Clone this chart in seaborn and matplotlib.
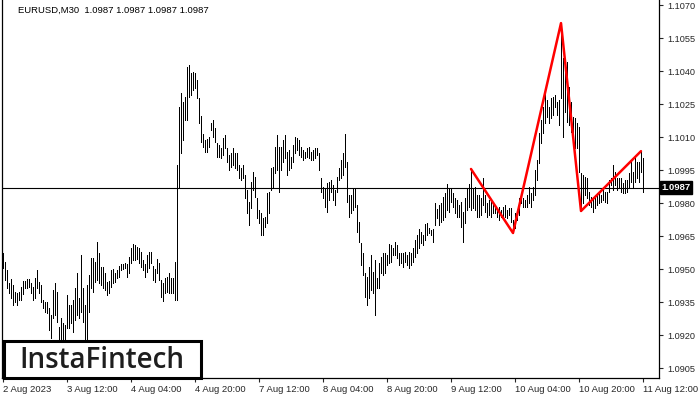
import numpy as np
import matplotlib
matplotlib.use("Agg")
import matplotlib.pyplot as plt
import seaborn as sns

# EURUSD M30, high / low for every bar
highs = [
    1.09573, 1.09532, 1.09496, 1.09436, 1.09455, 1.09427, 1.09396, 1.09391, 1.09396, 1.09418,
    1.09446, 1.09446, 1.09455, 1.09455, 1.09436, 1.09418, 1.09459, 1.09496, 1.09441, 1.09427,
    1.09359, 1.09350, 1.09350, 1.09323, 1.09291, 1.09405, 1.09436, 1.09396, 1.09236, 1.09277,
    1.09255, 1.09246, 1.09382, 1.09336, 1.09336, 1.09359, 1.09414, 1.09482, 1.09368, 1.09564,
    1.09414, 1.09336, 1.09427, 1.09473, 1.09550, 1.09550, 1.09532, 1.09623, 1.09573, 1.09509,
    1.09509, 1.09482, 1.09441, 1.09446, 1.09496, 1.09500, 1.09482, 1.09496, 1.09514, 1.09523,
    1.09523, 1.09527, 1.09523, 1.09555, 1.09596, 1.09614, 1.09609, 1.09600, 1.09596, 1.09578,
    1.09541, 1.09523, 1.09564, 1.09578, 1.09578, 1.09514, 1.09500, 1.09546, 1.09527, 1.09450,
    1.09436, 1.09459, 1.09464, 1.09482, 1.09459, 1.09459, 1.09532, 1.09973, 1.10237, 1.10300,
    1.10259, 1.10282, 1.10418, 1.10427, 1.10391, 1.10396, 1.10391, 1.10359, 1.10277, 1.10196,
    1.10114, 1.10087, 1.10091, 1.10100, 1.10164, 1.10178, 1.10141, 1.10073, 1.10064, 1.10050,
    1.10096, 1.10109, 1.10050, 1.10018, 1.10027, 1.10050, 1.10027, 1.10027, 1.09973, 1.09959,
    1.09973, 1.09927, 1.09859, 1.09805, 1.09896, 1.09941, 1.09918, 1.09823, 1.09768, 1.09755,
    1.09732, 1.09736, 1.09846, 1.09850, 1.09959, 1.09964, 1.10055, 1.10109, 1.10055, 1.10055,
    1.10087, 1.10109, 1.10032, 1.10041, 1.10009, 1.10064, 1.10100, 1.10096, 1.10087, 1.10055,
    1.10041, 1.10032, 1.10050, 1.10055, 1.10032, 1.10041, 1.10050, 1.10050, 1.10027, 1.09914,
    1.09873, 1.09868, 1.09891, 1.09896, 1.09905, 1.09882, 1.09859, 1.09918, 1.09959, 1.09996,
    1.10027, 1.10114, 1.09987, 1.09836, 1.09836, 1.09868, 1.09868, 1.09791, 1.09714, 1.09618,
    1.09573, 1.09482, 1.09464, 1.09509, 1.09564, 1.09487, 1.09541, 1.09459, 1.09527, 1.09555,
    1.09573, 1.09573, 1.09564, 1.09614, 1.09609, 1.09596, 1.09623, 1.09609, 1.09573, 1.09573,
    1.09573, 1.09578, 1.09564, 1.09578, 1.09573, 1.09596, 1.09632, 1.09655, 1.09682, 1.09668,
    1.09655, 1.09705, 1.09709, 1.09686, 1.09677, 1.09682, 1.09800, 1.09773, 1.09791, 1.09800,
    1.09827, 1.09846, 1.09887, 1.09868, 1.09868, 1.09846, 1.09823, 1.09814, 1.09791, 1.09805,
    1.09759, 1.09823, 1.09868, 1.09887, 1.09955, 1.09868, 1.09873, 1.09837, 1.09837, 1.09823,
    1.09914, 1.09837, 1.09800, 1.09814, 1.09805, 1.09800, 1.09791, 1.09777, 1.09782, 1.09768,
    1.09782, 1.09791, 1.09768, 1.09777, 1.09777, 1.09723, 1.09755, 1.09768, 1.09823, 1.09837,
    1.09823, 1.09814, 1.09837, 1.09873, 1.09846, 1.09873, 1.09950, 1.09996, 1.10118, 1.10178,
    1.10237, 1.10300, 1.10268, 1.10237, 1.10277, 1.10282, 1.10291, 1.10259, 1.10268, 1.10618,
    1.10459, 1.10391, 1.10441, 1.10327, 1.10259, 1.10191, 1.10187, 1.10164, 1.10146, 1.09936,
    1.09927, 1.09918, 1.09914, 1.09850, 1.09827, 1.09827, 1.09837, 1.09846, 1.09850, 1.09837,
    1.09859, 1.09850, 1.09850, 1.09905, 1.09914, 1.09973, 1.09941, 1.09914, 1.09914, 1.09914,
    1.09891, 1.09905, 1.09905, 1.09936, 1.09987, 1.09941, 1.10005, 1.09987, 1.09987, 1.10036,
    1.10005,
]
lows = [
    1.09505, 1.09450, 1.09414, 1.09391, 1.09368, 1.09336, 1.09350, 1.09336, 1.09359, 1.09359,
    1.09387, 1.09414, 1.09414, 1.09418, 1.09391, 1.09359, 1.09368, 1.09414, 1.09391, 1.09350,
    1.09323, 1.09305, 1.09300, 1.09223, 1.09187, 1.09277, 1.09291, 1.09259, 1.09155, 1.09150,
    1.09159, 1.09150, 1.09232, 1.09232, 1.09255, 1.09214, 1.09268, 1.09291, 1.09277, 1.09305,
    1.09259, 1.09155, 1.09150, 1.09305, 1.09414, 1.09396, 1.09441, 1.09450, 1.09436, 1.09427,
    1.09414, 1.09405, 1.09382, 1.09391, 1.09418, 1.09436, 1.09441, 1.09459, 1.09464, 1.09496,
    1.09500, 1.09505, 1.09464, 1.09482, 1.09527, 1.09541, 1.09541, 1.09546, 1.09527, 1.09509,
    1.09496, 1.09464, 1.09487, 1.09505, 1.09527, 1.09450, 1.09441, 1.09482, 1.09450, 1.09373,
    1.09355, 1.09391, 1.09396, 1.09391, 1.09391, 1.09391, 1.09359, 1.09359, 1.09868, 1.10027,
    1.10087, 1.10178, 1.10178, 1.10282, 1.10291, 1.10314, 1.10323, 1.10277, 1.10164, 1.10078,
    1.10055, 1.10032, 1.10032, 1.10055, 1.10132, 1.10100, 1.10078, 1.10009, 1.10009, 1.10005,
    1.10018, 1.10050, 1.09987, 1.09950, 1.09964, 1.09973, 1.09959, 1.09950, 1.09914, 1.09905,
    1.09914, 1.09823, 1.09755, 1.09700, 1.09777, 1.09859, 1.09827, 1.09732, 1.09709, 1.09655,
    1.09655, 1.09691, 1.09709, 1.09755, 1.09859, 1.09873, 1.09937, 1.09950, 1.09850, 1.09950,
    1.09987, 1.10005, 1.09927, 1.09950, 1.09959, 1.09987, 1.10027, 1.10041, 1.10018, 1.10009,
    1.09996, 1.10005, 1.10009, 1.10005, 1.09996, 1.09996, 1.10005, 1.10018, 1.09950, 1.09850,
    1.09823, 1.09782, 1.09759, 1.09814, 1.09850, 1.09814, 1.09791, 1.09850, 1.09905, 1.09914,
    1.09927, 1.09964, 1.09805, 1.09736, 1.09755, 1.09768, 1.09782, 1.09668, 1.09623, 1.09518,
    1.09473, 1.09373, 1.09336, 1.09368, 1.09405, 1.09391, 1.09291, 1.09414, 1.09414, 1.09482,
    1.09473, 1.09482, 1.09518, 1.09527, 1.09532, 1.09564, 1.09564, 1.09550, 1.09518, 1.09527,
    1.09509, 1.09532, 1.09518, 1.09505, 1.09518, 1.09532, 1.09555, 1.09573, 1.09596, 1.09618,
    1.09609, 1.09632, 1.09655, 1.09664, 1.09655, 1.09623, 1.09700, 1.09732, 1.09700, 1.09714,
    1.09723, 1.09736, 1.09768, 1.09759, 1.09805, 1.09782, 1.09755, 1.09736, 1.09736, 1.09691,
    1.09623, 1.09709, 1.09768, 1.09782, 1.09768, 1.09777, 1.09768, 1.09736, 1.09736, 1.09746,
    1.09791, 1.09759, 1.09736, 1.09746, 1.09736, 1.09755, 1.09755, 1.09736, 1.09723, 1.09736,
    1.09732, 1.09736, 1.09732, 1.09746, 1.09714, 1.09664, 1.09686, 1.09723, 1.09746, 1.09800,
    1.09782, 1.09782, 1.09782, 1.09800, 1.09782, 1.09814, 1.09837, 1.09905, 1.09982, 1.10073,
    1.10118, 1.10164, 1.10191, 1.10164, 1.10186, 1.10200, 1.10237, 1.10200, 1.10155, 1.10277,
    1.10100, 1.10214, 1.10168, 1.10155, 1.10123, 1.10078, 1.10050, 1.10050, 1.09941, 1.09764,
    1.09800, 1.09837, 1.09823, 1.09791, 1.09782, 1.09759, 1.09777, 1.09791, 1.09800, 1.09805,
    1.09814, 1.09805, 1.09800, 1.09850, 1.09882, 1.09859, 1.09882, 1.09859, 1.09868, 1.09850,
    1.09846, 1.09846, 1.09850, 1.09868, 1.09896, 1.09873, 1.09896, 1.09914, 1.09896, 1.09941,
    1.09850,
]

# pattern (red zigzag): bar index and price
pattern_bars = [234, 255, 279, 289, 319]
pattern_prices = [1.09955, 1.09664, 1.10618, 1.09764, 1.10036]

time_labels = ["2 Aug 2023", "3 Aug 12:00", "4 Aug 04:00", "4 Aug 20:00", "7 Aug 12:00",
               "8 Aug 04:00", "8 Aug 20:00", "9 Aug 12:00", "10 Aug 04:00", "10 Aug 20:00",
               "11 Aug 12:00"]
label_step = 32
price_ticks = [1.0905, 1.0920, 1.0935, 1.0950, 1.0965, 1.0980, 1.0995,
               1.1010, 1.1025, 1.1040, 1.1055, 1.1070]
last_price = 1.0987
title = "EURUSD,M30  1.0987 1.0987 1.0987 1.0987"

sns.set_style("white")
plt.rcParams['font.family'] = ['Liberation Sans', 'DejaVu Sans']

fig = plt.figure(figsize=(7, 4), dpi=100)
ax = fig.add_axes([2 / 700, 22 / 400, 657 / 700, 378 / 400])

idx = np.arange(len(highs))
ax.vlines(idx, lows, highs, color="black", linewidth=0.7, antialiased=False)

ax.axhline(last_price, color="black", linewidth=0.8)

sns.lineplot(x=pattern_bars, y=pattern_prices, color="red", linewidth=1.8,
             ax=ax, legend=False, sort=False)

ax.set_xlim(-0.5, 328)
ax.set_ylim(1.09005, 1.10723)

for side in ["left", "bottom", "right"]:
    ax.spines[side].set_visible(True)
    ax.spines[side].set_color("black")
    ax.spines[side].set_linewidth(0.9)
ax.spines["top"].set_visible(False)

ax.set_xticks(np.arange(len(time_labels)) * label_step)
ax.set_xticklabels(time_labels, ha="left", fontsize=6.8)
ax.tick_params(axis="x", direction="out", length=3, width=0.8, pad=2, bottom=True)

ax.yaxis.tick_right()
ax.set_yticks(price_ticks)
ax.set_yticklabels([f"{p:.4f}" for p in price_ticks], fontsize=6.6)
ax.tick_params(axis="y", direction="out", length=3, width=0.8, pad=3, right=True, left=False)
ax.set_xlabel("")
ax.set_ylabel("")

# current price tag
ax.text(1.0035, last_price, f"{last_price:.4f}", transform=ax.get_yaxis_transform(),
        ha="left", va="center", fontsize=6.8, color="white", fontweight="bold",
        bbox=dict(boxstyle="square,pad=0.18", fc="black", ec="black"), clip_on=False)

fig.text(18 / 700, 1 - 10 / 400, title, ha="left", va="center", fontsize=6.8, color="black")

# logo box
fig.patches.append(plt.Rectangle((4 / 700, 22 / 400), 197 / 700, 37 / 400,
                                 transform=fig.transFigure, facecolor="white",
                                 edgecolor="black", linewidth=2.2, zorder=5))
fig.text(102 / 700, 40 / 400, "InstaFintech", ha="center", va="center",
         fontsize=20, color="#1e1e1e", fontweight="semibold",
         family=["Open Sans", "DejaVu Sans"], zorder=6)

fig.savefig("out.png", dpi=100)
